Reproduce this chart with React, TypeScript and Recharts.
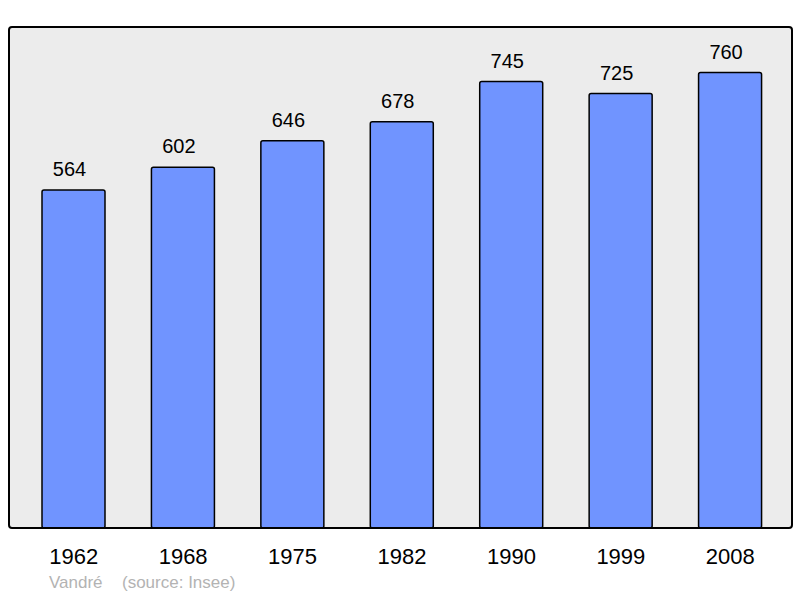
import { BarChart, Bar, XAxis, YAxis, LabelList } from 'recharts';

const years = ['1962', '1968', '1975', '1982', '1990', '1999', '2008'];
const population = [564, 602, 646, 678, 745, 725, 760];
const commune = 'Vandré';
const source = '(source: Insee)';

const data = years.map((year, i) => ({ year, value: population[i] }));

const FONT = '"Liberation Sans", Arial, sans-serif';

export default function App() {
  return (
    <div style={{ position: 'absolute', left: 0, top: 0, width: 800, height: 598, background: '#fff', fontFamily: FONT }}>
      {/* plot background */}
      <div
        style={{
          position: 'absolute', left: 9, top: 27, width: 783, height: 501,
          background: '#ececec', boxSizing: 'border-box', borderRadius: 4,
        }}
      />
      <div style={{ position: 'absolute', left: 0, top: 0 }}>
        <BarChart
          width={800}
          height={598}
          data={data}
          margin={{ top: 27, right: 8, bottom: 30, left: 9 }}
          barCategoryGap={23}
        >
          <XAxis
            dataKey="year"
            height={40}
            axisLine={false}
            tickLine={false}
            tickMargin={14}
            padding={{ left: 10, right: 7 }}
            tick={{ fill: '#000', fontSize: 22, fontFamily: FONT }}
          />
          <YAxis hide domain={[0, 836]} />
          <Bar
            dataKey="value"
            fill="#7094ff"
            stroke="#000"
            strokeWidth={1.5}
            radius={2}
            isAnimationActive={false}
          >
            <LabelList
              dataKey="value"
              position="top"
              offset={14}
              dx={-4}
              fill="#000"
              fontSize={20}
              fontFamily={FONT}
            />
          </Bar>
        </BarChart>
      </div>
      {/* plot border */}
      <div
        style={{
          position: 'absolute', left: 8, top: 26, width: 785, height: 503,
          border: '2px solid #000', borderRadius: 4, boxSizing: 'border-box', pointerEvents: 'none',
        }}
      />
      <div style={{ position: 'absolute', left: 49, top: 573, fontSize: 17, color: '#b3b3b3' }}>{commune}</div>
      <div style={{ position: 'absolute', left: 122, top: 573, fontSize: 17, color: '#b3b3b3' }}>{source}</div>
    </div>
  );
}
